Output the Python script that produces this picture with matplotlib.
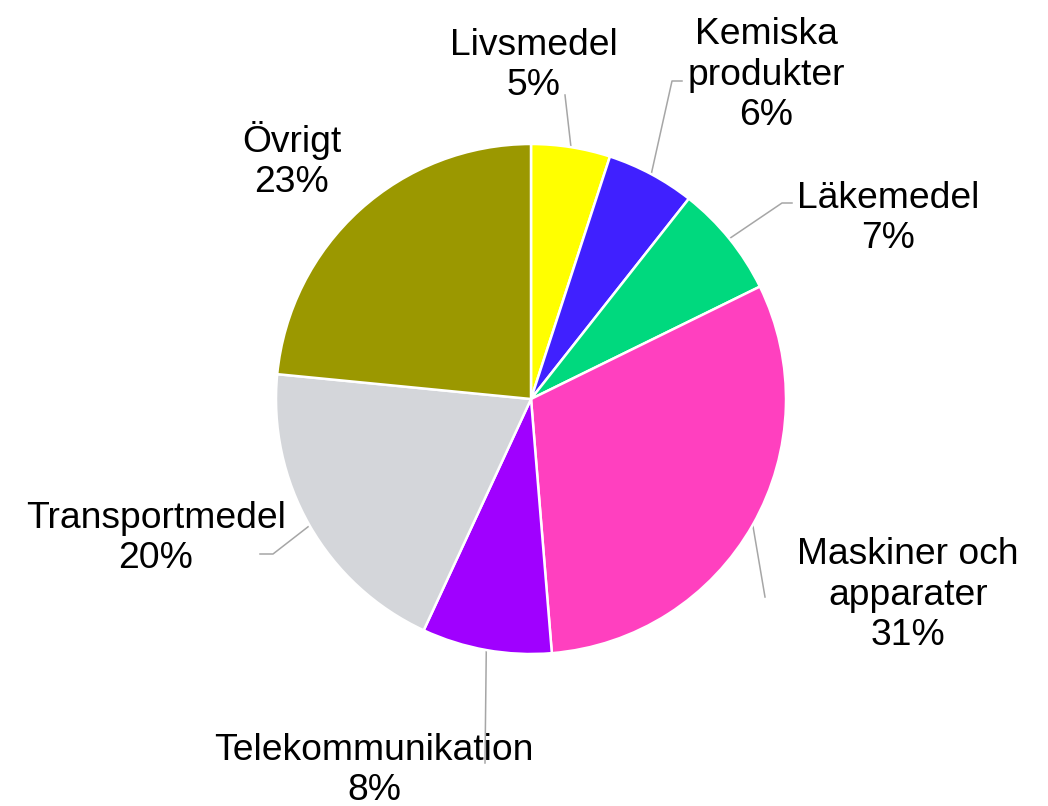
import numpy as np
import matplotlib.pyplot as plt

plt.rcParams['font.family'] = ['Liberation Sans', 'DejaVu Sans']

# data (share of exports, %)
categories = ["Livsmedel", "Kemiska\nprodukter", "Läkemedel", "Maskiner och\napparater",
              "Telekommunikation", "Transportmedel", "Övrigt"]
shares = [5.0, 5.6, 7.1, 30.9, 8.2, 19.6, 23.4]
colors = ["#FFFF00", "#4020FF", "#00D97E", "#FF40BF", "#A000FF", "#D4D6DA", "#9B9800"]

# layout (pixel coords, y down): label baseline point and leader line points near the label
label_pos = [(534, 95), (766, 125), (888, 248), (908, 645), (374, 800), (156, 568), (292, 192)]
leader_pts = [[(565, 95)], [(682, 81), (672, 81)], [(792, 203), (782, 203)], [(765, 597)],
              [(485, 763)], [(260, 554), (273, 554)], None]

W, H = 1048, 806
cx, cy, r = 531, H - 399, 255

fig = plt.figure(figsize=(W / 100, H / 100), dpi=100)
ax = fig.add_axes([0, 0, 1, 1])

wedges, _ = ax.pie(shares, colors=colors, startangle=90, counterclock=False,
                   center=(cx, cy), radius=r, frame=True,
                   wedgeprops=dict(edgecolor='white', linewidth=1.8))
ax.set_xlim(0, W)
ax.set_ylim(0, H)
ax.axis('off')

total = sum(shares)
for w, name, val, (tx, ty), pts in zip(wedges, categories, shares, label_pos, leader_pts):
    ax.text(tx, H - ty, f"{name}\n{round(val / total * 100):.0f}%", ha='center', va='baseline',
            multialignment='center', fontsize=26.8, linespacing=1.2, color='black')
    if pts is None:
        continue
    mid = np.deg2rad((w.theta1 + w.theta2) / 2)
    ex, ey = cx + r * np.cos(mid), cy + r * np.sin(mid)
    xs = [p[0] for p in pts] + [ex]
    ys = [H - p[1] for p in pts] + [ey]
    ax.plot(xs, ys, color='#A6A6A6', linewidth=1.1, zorder=0.5)

fig.savefig("out.png", dpi=100)
